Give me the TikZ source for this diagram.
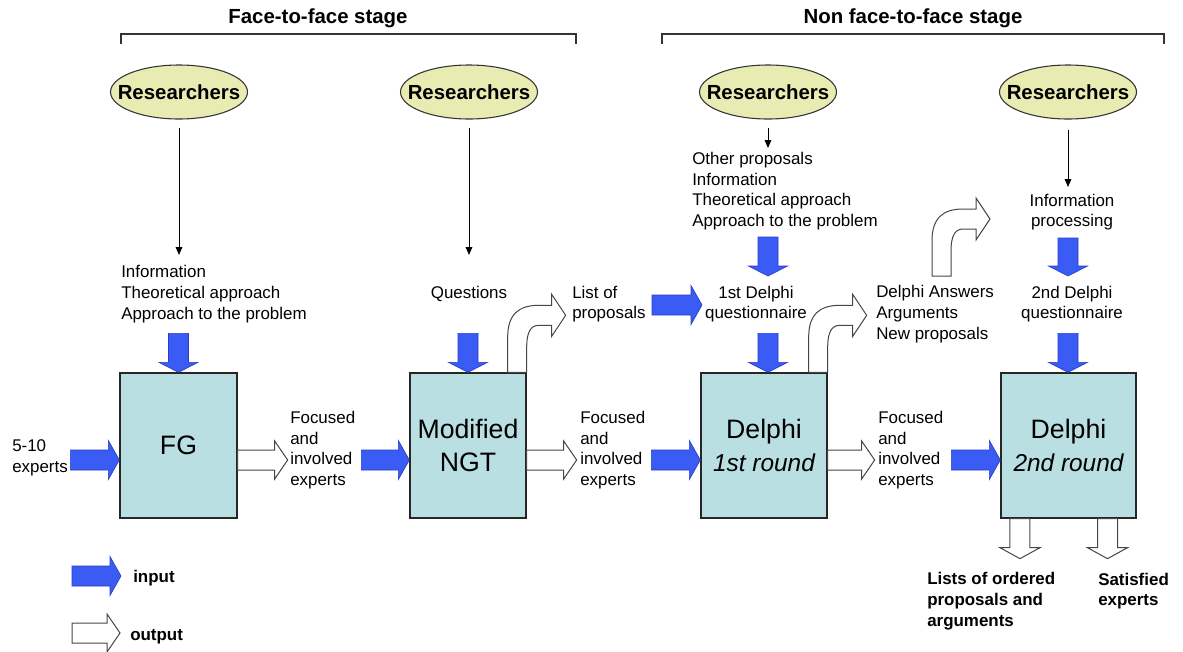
\documentclass[tikz,border=0pt]{standalone}
\usepackage{fontspec}
\setmainfont{Liberation Sans}
\usetikzlibrary{shapes.geometric,arrows.meta}
\definecolor{bfill}{RGB}{58,92,245}
\definecolor{bdraw}{RGB}{40,62,200}
\definecolor{boxc}{RGB}{186,223,227}
\definecolor{ellc}{RGB}{232,236,178}
\definecolor{wline}{RGB}{70,70,70}
\newcommand{\rnd}[1]{{\fontsize{18.3}{24.5}\selectfont\itshape #1}}
\tikzset{
 sm/.style={font=\fontsize{12.7}{15.5}\selectfont, inner sep=0pt, align=left},
 smc/.style={font=\fontsize{12.7}{15.5}\selectfont, inner sep=0pt, align=center},
 smb/.style={font=\fontsize{12.7}{15.5}\selectfont\bfseries, inner sep=0pt, align=left},
 hdr/.style={font=\fontsize{15.3}{18}\selectfont\bfseries, inner sep=0pt},
 res/.style={ellipse, draw=black!80, line width=0.8pt, fill=ellc, minimum width=102.75pt, minimum height=40.5pt, inner sep=0pt, font=\fontsize{15.3}{18}\selectfont\bfseries},
 stage/.style={draw=black!85, line width=1pt, fill=boxc, minimum height=108.75pt, inner sep=0pt, align=center, font=\fontsize{20}{24.5}\selectfont},
 blk/.style={-{Triangle[length=6pt,width=5pt]}, line width=0.75pt},
 brk/.style={line width=1pt, draw=black!80},
 bluea/.style={fill=bfill, draw=bdraw, line width=0.5pt, line join=miter},
 whitea/.style={fill=white, draw=wline, line width=0.75pt},
 pics/bluer/.style={code={\path[bluea] (-#1,-10) -- (-11,-10) -- (-11,-19.5) -- (0,0) -- (-11,19.5) -- (-11,10) -- (-#1,10) -- cycle;}},
 pics/whiter/.style={code={\path[whitea] (0,-10) -- ({#1-13},-10) -- ({#1-13},-19) -- (#1,0) -- ({#1-13},19) -- ({#1-13},10) -- (0,10) -- cycle;}},
 pics/blued/.style={code={\path[bluea] (-10,-#1) -- (-10,-10) -- (-19.5,-10) -- (0,0) -- (19.5,-10) -- (10,-10) -- (10,-#1) -- cycle;}},
 pics/whited/.style={code={\path[whitea] (-10,0) -- (-10,{#1-11}) -- (-20,{#1-11}) -- (0,#1) -- (20,{#1-11}) -- (10,{#1-11}) -- (10,0) -- cycle;}},
 pics/bent/.style={code={\path[whitea] (-19,0) -- (-19,-35) .. controls (-19,-58) and (-8,-67) .. (12,-67) -- (25,-67) -- (25,-78) -- (39,-57) -- (25,-36) -- (25,-47) -- (12,-47) .. controls (4,-47) and (0,-40) .. (0,-25) -- (0,0) -- cycle;}}
}
\begin{document}
\begin{tikzpicture}[x=0.75pt,y=-0.75pt]
\useasboundingbox (0,0) rectangle (1183,651);
% headers
\node[hdr] (h1) at (318,18) {Face-to-face stage};
\node[hdr] (h2) at (913,18) {Non face-to-face stage};
\draw[brk] (121,44) -- (121,34) -- (576,34) -- (576,44);
\draw[brk] (662,44) -- (662,34) -- (1164,34) -- (1164,44);
% researchers
\node[res] (r1) at (179,92) {\makebox[0pt]{Researchers}};
\node[res] (r2) at (469,92) {\makebox[0pt]{Researchers}};
\node[res] (r3) at (768,92) {\makebox[0pt]{Researchers}};
\node[res] (r4) at (1068,92) {\makebox[0pt]{Researchers}};
% boxes
\node[stage, minimum width=87.75pt] (FG) at (178.5,445.5) {FG};
\node[stage, minimum width=87pt] (NGT) at (468,445.5) {Modified\\NGT};
\node[stage, minimum width=94.5pt] (D1) at (764,445.5) {Delphi\\\rnd{1st round}};
\node[stage, minimum width=101.25pt] (D2) at (1068.5,445.5) {Delphi\\\rnd{2nd round}};
% texts
\node[sm, anchor=west] (info1) at (121,294) {Information\\Theoretical approach\\Approach to the problem};
\node[smc] (q) at (469,294) {Questions};
\node[sm, anchor=west] (lop) at (572,304) {List of\\proposals};
\node[smc] (q1) at (756,304) {1st Delphi\\questionnaire};
\node[sm, anchor=west] (other) at (692,191) {Other proposals\\Information\\Theoretical approach\\Approach to the problem};
\node[sm, anchor=west] (ans) at (876,314) {Delphi Answers\\Arguments\\New proposals};
\node[smc] (ip) at (1072,212) {Information\\processing};
\node[smc] (q2) at (1072,304) {2nd Delphi\\questionnaire};
\node[sm, anchor=west] (exp) at (12,458) {5-10\\experts};
\node[sm, anchor=west] (foc1) at (290,450) {Focused\\and\\involved\\experts};
\node[sm, anchor=west] (foc2) at (580,450) {Focused\\and\\involved\\experts};
\node[sm, anchor=west] (foc3) at (878,450) {Focused\\and\\involved\\experts};
\node[smb, anchor=west] (out1) at (927,601) {Lists of ordered\\proposals and\\arguments};
\node[smb, anchor=west] (out2) at (1098,591) {Satisfied\\experts};
\node[smb, anchor=west] (inp) at (133,578) {input};
\node[smb, anchor=west] (outp) at (130,637) {output};
% black arrows
\coordinate (t1) at (179,255);
\coordinate (t2) at (469,255);
\coordinate (t3) at (768,148);
\coordinate (t4) at (1068,187);
\draw[blk] (r1.south) ++(0,8) -- (t1);
\draw[blk] (r2.south) ++(0,8) -- (t2);
\draw[blk] (r3.south) ++(0,8) -- (t3);
\draw[blk] (r4.south) ++(0,10) -- (t4);
% horizontal block arrows
\coordinate (row) at (0,460);
\pic at (FG.west |- row) {bluer=49};
\pic at (FG.east |- row) {whiter=50};
\pic at (NGT.west |- row) {bluer=48};
\pic at (NGT.east |- row) {whiter=50};
\pic at (D1.west |- row) {bluer=49};
\pic at (D1.east |- row) {whiter=47};
\pic at (D2.west |- row) {bluer=49};
\coordinate (lp) at (702,305);
\pic at (lp) {bluer=50};
% vertical block arrows
\pic at (FG.north) {blued=39};
\pic at (NGT.north) {blued=39};
\pic at (D1.north -| r3) {blued=39};
\pic at (D2.north -| r4) {blued=39};
\coordinate (a3) at (768,276);
\pic at (a3) {blued=39};
\coordinate (a4) at (1068,276);
\pic at (a4) {blued=38};
\pic at ([xshift=-36.4pt]D2.south) {whited=40};
\pic at ([xshift=29.25pt]D2.south) {whited=40};
% bent output arrows
\pic at (NGT.north east) {bent};
\pic at (D1.north east) {bent};
\coordinate (b3) at (951,276);
\pic at (b3) {bent};
% legend
\coordinate (lg1) at (121,576);
\pic at (lg1) {bluer=49};
\coordinate (lg2) at (72,633);
\pic at (lg2) {whiter=48};
\end{tikzpicture}
\end{document}
